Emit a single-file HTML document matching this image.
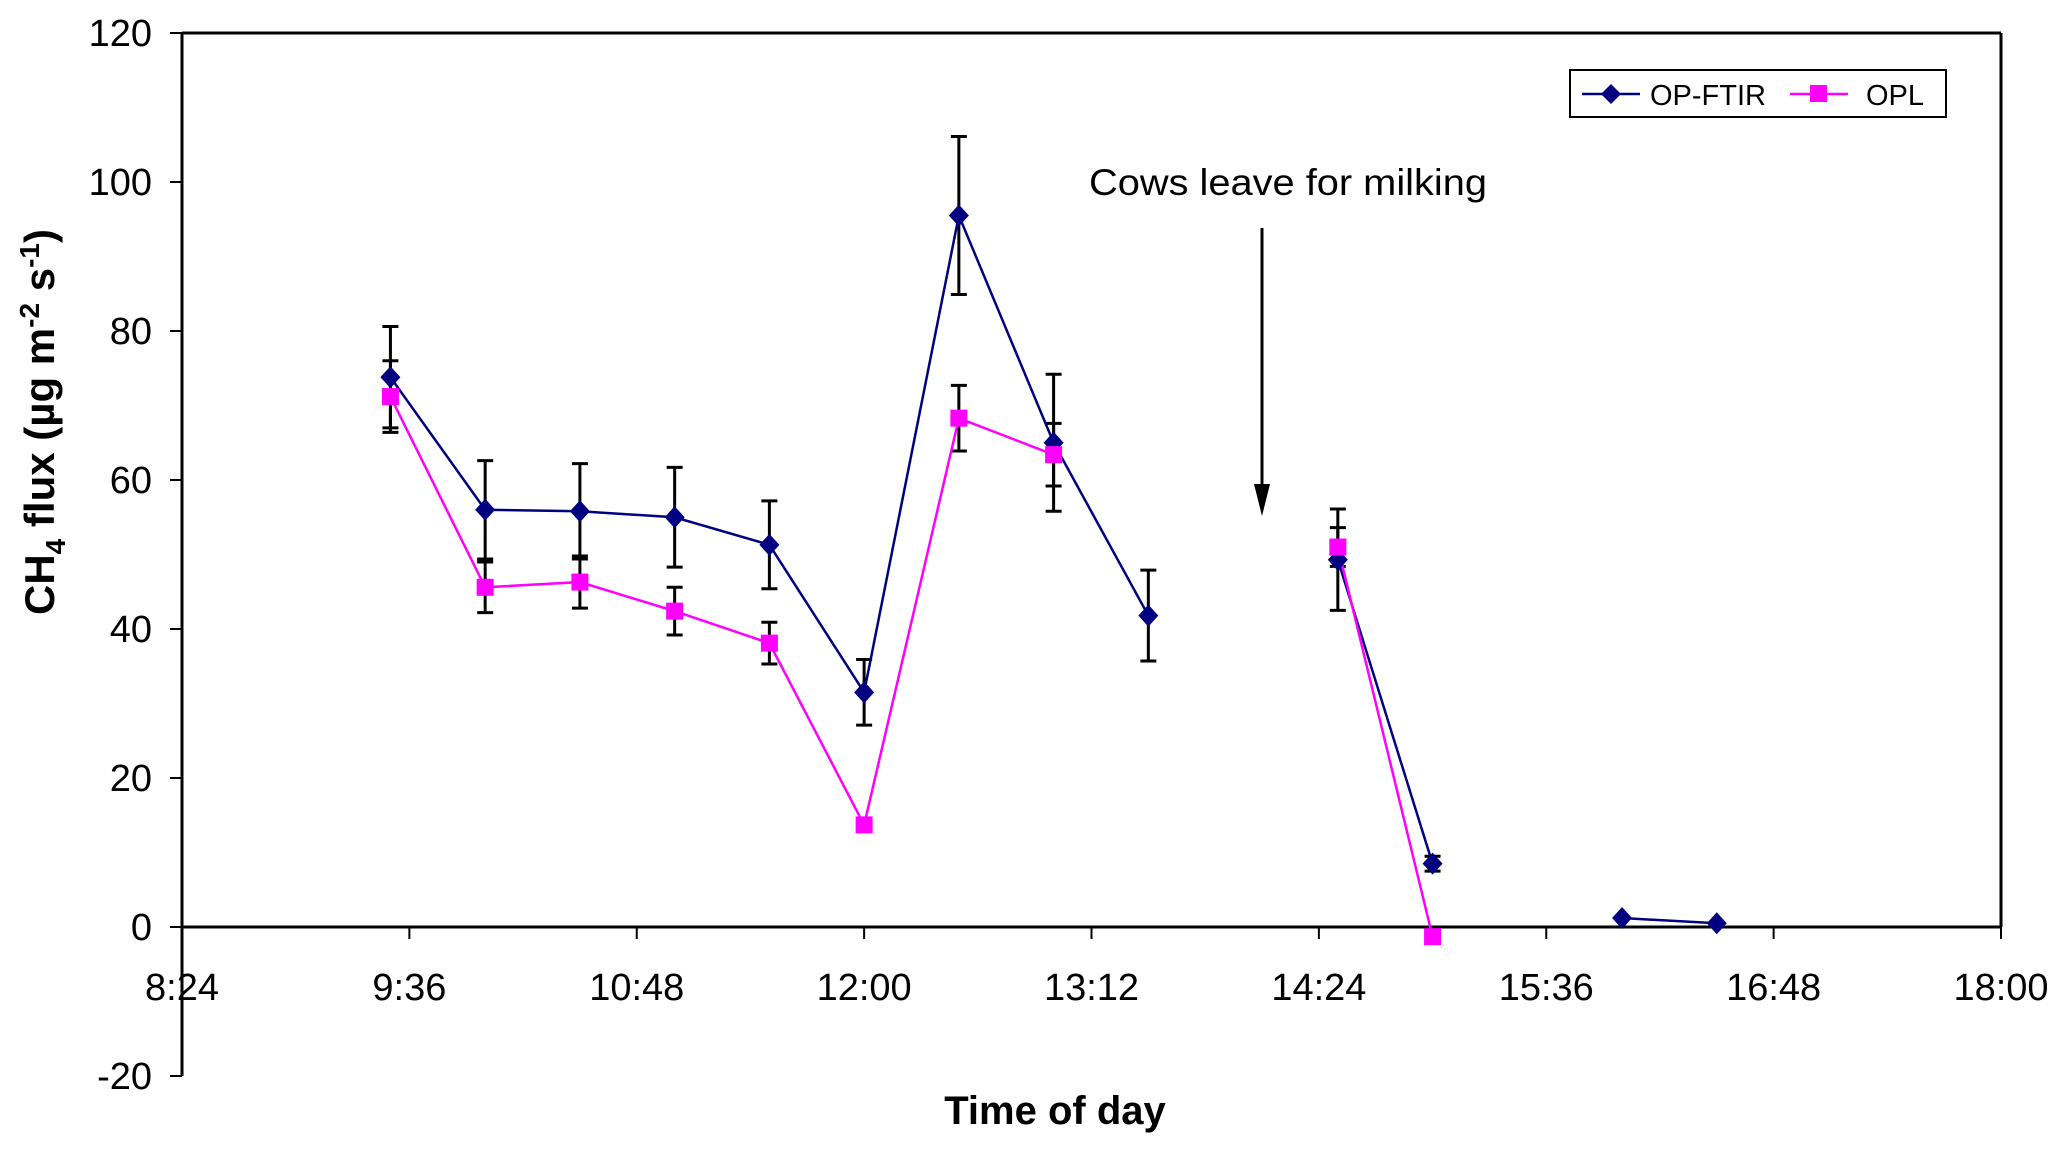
<!DOCTYPE html>
<html><head><meta charset="utf-8"><style>
html,body{margin:0;padding:0;background:#fff;}
svg{display:block;font-family:"Liberation Sans",Arial,sans-serif;}
</style></head><body>
<svg id="chart" width="2067" height="1150" viewBox="0 0 2067 1150" xmlns="http://www.w3.org/2000/svg">
<g id="axes"></g>
<g id="marks"></g>
<text transform="translate(54,422) rotate(-90)" text-anchor="middle" font-size="42" font-weight="bold">CH<tspan font-size="28" dy="11">4</tspan><tspan dy="-11"> flux (µg m</tspan><tspan font-size="28" dy="-15">-2</tspan><tspan dy="15"> s</tspan><tspan font-size="28" dy="-15">-1</tspan><tspan dy="15">)</tspan></text>
<text x="1055" y="1124" text-anchor="middle" font-size="40" font-weight="bold">Time of day</text>
<text x="1089" y="195" font-size="37" textLength="398" lengthAdjust="spacingAndGlyphs">Cows leave for milking</text>
<g>
<line x1="1262" y1="228" x2="1262" y2="505" stroke="#000" stroke-width="3"/>
<polygon points="1254,484 1270,484 1262,516" fill="#000"/>
</g>
<g>
<rect x="1570" y="70" width="376" height="47" fill="#fff" stroke="#000" stroke-width="2"/>
<g>
<line x1="1582" y1="94" x2="1640" y2="94" stroke="#000080" stroke-width="2.5"/>
<polygon points="1611,84 1621,94 1611,104 1601,94" fill="#000080"/>
<text x="1650" y="105" font-size="29">OP-FTIR</text>
</g>
<g>
<line x1="1790" y1="94" x2="1848" y2="94" stroke="#ff00ff" stroke-width="2.5"/>
<rect x="1810" y="85" width="17" height="17" fill="#ff00ff"/>
<text x="1866" y="105" font-size="29">OPL</text>
</g>
</g>
</svg>
<script>
// data (times in minutes since midnight)
const times = [570,600,630,660,690,720,750,780,810,870,900,960,990];
const ftirValues = [73.8,56.0,55.8,55.0,51.3,31.5,95.5,65.0,41.8,49.3,8.5,1.2,0.5];
const ftirErrors = [6.8,6.6,6.4,6.7,5.9,4.4,10.6,9.2,6.1,6.8,1.0,0,0];
const oplValues = [71.2,45.6,46.3,42.4,38.1,13.7,68.3,63.4,null,51.0,-1.3,null,null];
const oplErrors = [4.8,3.4,3.5,3.2,2.8,0.7,4.4,4.2,0,2.6,0.3,0,0];
// segment breaks: index where a new line segment starts
const ftirBreaks = [9,11];
const oplBreaks = [9];
const yTicks = [-20,0,20,40,60,80,100,120];
const xTickMinutes = [504,576,648,720,792,864,936,1008,1080];
const xTickLabels = ["8:24","9:36","10:48","12:00","13:12","14:24","15:36","16:48","18:00"];

const NS="http://www.w3.org/2000/svg";
const L=182,R=2001,T=33,B0=927;
const xMin=504,xMax=1080,yMin=-20,yMax=120;
const yBottom=1076;
function xs(m){return L+(m-xMin)/(xMax-xMin)*(R-L);}
function ys(v){return T+(yMax-v)/(yMax-yMin)*(yBottom-T);}
function mk(tag,attrs,parent){const e=document.createElementNS(NS,tag);for(const k in attrs)e.setAttribute(k,attrs[k]);parent.appendChild(e);return e;}

const axes=document.getElementById('axes');
const marks=document.getElementById('marks');
let e;
e=mk('line',{x1:L,y1:T,x2:R,y2:T,stroke:'#000','stroke-width':3},axes);


e=mk('line',{x1:R,y1:T,x2:R,y2:ys(0),stroke:'#000','stroke-width':3},axes);


e=mk('line',{x1:L,y1:T,x2:L,y2:ys(-20),stroke:'#000','stroke-width':3},axes);


e=mk('line',{x1:L,y1:ys(0),x2:R,y2:ys(0),stroke:'#000','stroke-width':3},axes);


yTicks.forEach(v=>{
  const y=ys(v);
  const t=mk('line',{x1:L-12,y1:y,x2:L,y2:y,stroke:'#000','stroke-width':2},axes);
  
  
  const tx=mk('text',{x:152,y:y+13,'text-anchor':'end','font-size':38},axes);
  tx.textContent=String(v);
  
  
});
xTickMinutes.forEach((m,i)=>{
  const x=xs(m);
  const t=mk('line',{x1:x,y1:B0,x2:x,y2:B0+12,stroke:'#000','stroke-width':2},axes);
  
  
  const tx=mk('text',{x:x,y:1000,'text-anchor':'middle','font-size':38},axes);
  tx.textContent=xTickLabels[i];
  
  
});

function errorBars(vals,errs,name){
  vals.forEach((v,i)=>{
    if(v===null||!errs[i])return;
    const x=xs(times[i]),y1=ys(v+errs[i]),y2=ys(v-errs[i]);
    const g=mk('g',{stroke:'#000','stroke-width':3},marks);
    
    
    mk('line',{x1:x,y1:y1,x2:x,y2:y2},g);
    mk('line',{x1:x-8,y1:y1,x2:x+8,y2:y1},g);
    mk('line',{x1:x-8,y1:y2,x2:x+8,y2:y2},g);
  });
}
function lines(vals,breaks,color,name){
  let seg=[];
  const flush=()=>{if(seg.length>1){const p=mk('polyline',{points:seg.join(' '),fill:'none',stroke:color,'stroke-width':2.5},marks);
    
    }seg=[];};
  vals.forEach((v,i)=>{
    if(breaks.includes(i))flush();
    if(v===null){flush();return;}
    seg.push(xs(times[i])+','+ys(v));
  });
  flush();
}
errorBars(ftirValues,ftirErrors,'op-ftir');
errorBars(oplValues,oplErrors,'opl');
lines(ftirValues,ftirBreaks,'#000080','op-ftir');
lines(oplValues,oplBreaks,'#ff00ff','opl');
ftirValues.forEach((v,i)=>{
  const x=xs(times[i]),y=ys(v);
  const p=mk('polygon',{points:`${x},${y-11} ${x+10},${y} ${x},${y+11} ${x-10},${y}`,fill:'#000080'},marks);
  
  
});
oplValues.forEach((v,i)=>{
  if(v===null)return;
  const x=xs(times[i]),y=ys(v);
  const r=mk('rect',{x:x-8.5,y:y-8.5,width:17,height:17,fill:'#ff00ff'},marks);
  
  
});
</script>
</body></html>
